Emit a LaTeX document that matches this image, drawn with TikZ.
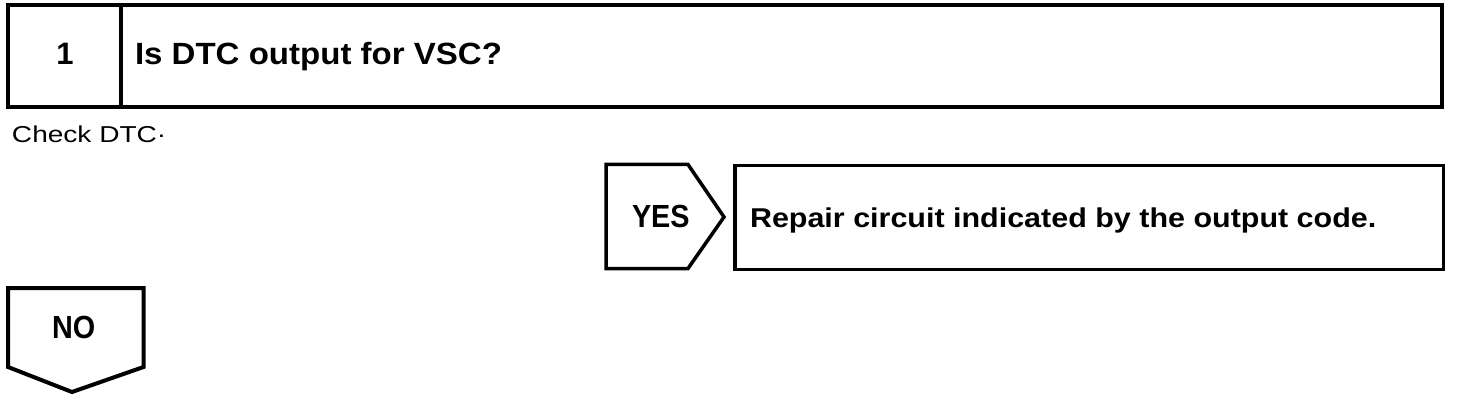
\documentclass[tikz,border=0pt]{standalone}
\usepackage{fontspec}
\setmainfont{Liberation Sans}
\begin{document}
\begin{tikzpicture}[x=1pt,y=-1pt,
  frame/.style={draw=black,line width=4pt,line join=miter},
  thinframe/.style={draw=black,line width=3.5pt,line join=miter},
  lbl/.style={anchor=base west,inner sep=0pt,outer sep=0pt,text=black}]
\useasboundingbox[fill=white] (0,0) rectangle (1472,406);
% top step box
\draw[frame] (8,5) rectangle (1442,107.5);
\draw[frame] (120.5,5) -- (120.5,107.5);
\node[anchor=base,inner sep=0pt] (num) at (65,65) {\fontsize{31}{31}\selectfont\bfseries 1};
\node[lbl] (title) at (135,65) {\scalebox{1.076}[1]{\fontsize{30.7}{31}\selectfont\bfseries Is DTC output for VSC?}};
% check text
\node[lbl] (check) at (12,143) {\scalebox{1.22}[1]{\fontsize{23}{23}\selectfont Check DTC·}};
% YES arrow
\draw[thinframe] (606,164.5) -- (688,164.5) -- (724,217) -- (688,268.5) -- (606,268.5) -- cycle;
\node[lbl] (yes) at (632,228) {\scalebox{0.9}[1]{\fontsize{32}{32}\selectfont\bfseries YES}};
% repair box
\draw[thinframe] (735,165.5) rectangle (1443.5,269.5);
\node[lbl] (repair) at (750,227) {\scalebox{1.12}[1]{\fontsize{27.2}{28}\selectfont\bfseries Repair circuit indicated by the output code.}};
% NO arrow
\draw[frame] (8,288) -- (143.5,288) -- (143.5,367) -- (72,392) -- (8,367) -- cycle;
\node[lbl] (no) at (52,338) {\scalebox{0.9}[1]{\fontsize{32}{32}\selectfont\bfseries NO}};
\end{tikzpicture}
\end{document}
